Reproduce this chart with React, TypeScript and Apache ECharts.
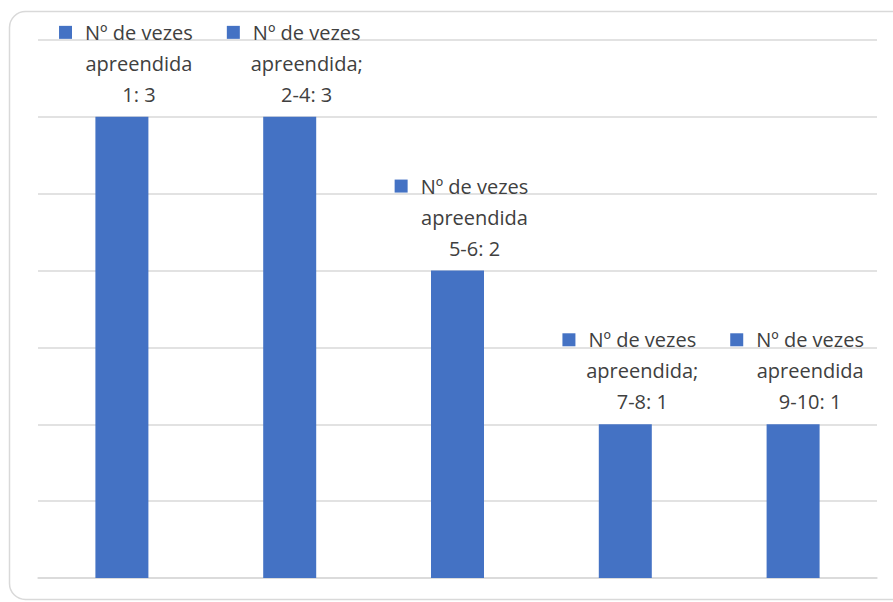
import React, { useEffect, useRef } from "react";
import * as echarts from "echarts";

const categories = ["1", "2-4", "5-6", "7-8", "9-10"];
const values = [3, 3, 2, 1, 1];
const seriesNames = [
  "Nº de vezes\napreendida",
  "Nº de vezes\napreendida;",
  "Nº de vezes\napreendida",
  "Nº de vezes\napreendida;",
  "Nº de vezes\napreendida",
];
const yTicks = { min: 0, max: 3.5, interval: 0.5 };

export default function App() {
  const ref = useRef<HTMLDivElement>(null);
  useEffect(() => {
    if (!ref.current) return;
    const chart = echarts.init(ref.current, null, { renderer: "svg" });
    const font = "'Open Sans', sans-serif";
    chart.setOption({
      animation: false,
      backgroundColor: "#ffffff",
      graphic: [
        {
          type: "rect",
          shape: { x: 9.5, y: 11.5, width: 900, height: 588, r: 16 },
          style: { fill: "none", stroke: "#d9d9d9", lineWidth: 1.5 },
          silent: true,
        },
      ],
      grid: { left: 38, right: 16, top: 40, bottom: 24 },
      xAxis: {
        type: "category",
        data: categories,
        axisLine: { show: true, lineStyle: { color: "#d9d9d9", width: 1.5 } },
        axisTick: { show: false },
        axisLabel: { show: false },
      },
      yAxis: {
        type: "value",
        min: yTicks.min,
        max: yTicks.max,
        interval: yTicks.interval,
        axisLabel: { show: false },
        axisLine: { show: false },
        axisTick: { show: false },
        splitLine: { lineStyle: { color: "#d9d9d9", width: 1.5 } },
      },
      series: [
        {
          type: "bar",
          data: values,
          barWidth: 53,
          itemStyle: { color: "#4472C4" },
          label: {
            show: true,
            position: "top",
            distance: 7,
            offset: [4, 0],
            align: "center",
            formatter: (p: any) => {
              const lines = seriesNames[p.dataIndex].split("\n");
              return (
                "{key|}{gap|}{t|" + lines[0] + "}\n" +
                "{pad|}{t|" + lines[1] + "}\n" +
                "{pad|}{t|" + categories[p.dataIndex] + ": " + p.value + "}"
              );
            },
            rich: {
              key: {
                width: 13,
                height: 13,
                backgroundColor: "#4472C4",
              },
              gap: { width: 13 },
              pad: { width: 26 },
              t: {
                fontFamily: font,
                fontSize: 20,
                color: "#404040",
                lineHeight: 31,
              },
            },
          },
        },
      ],
    });
    return () => chart.dispose();
  }, []);
  return (
    <div
      ref={ref}
      style={{ position: "fixed", left: 0, top: 0, width: 893, height: 602 }}
    />
  );
}
